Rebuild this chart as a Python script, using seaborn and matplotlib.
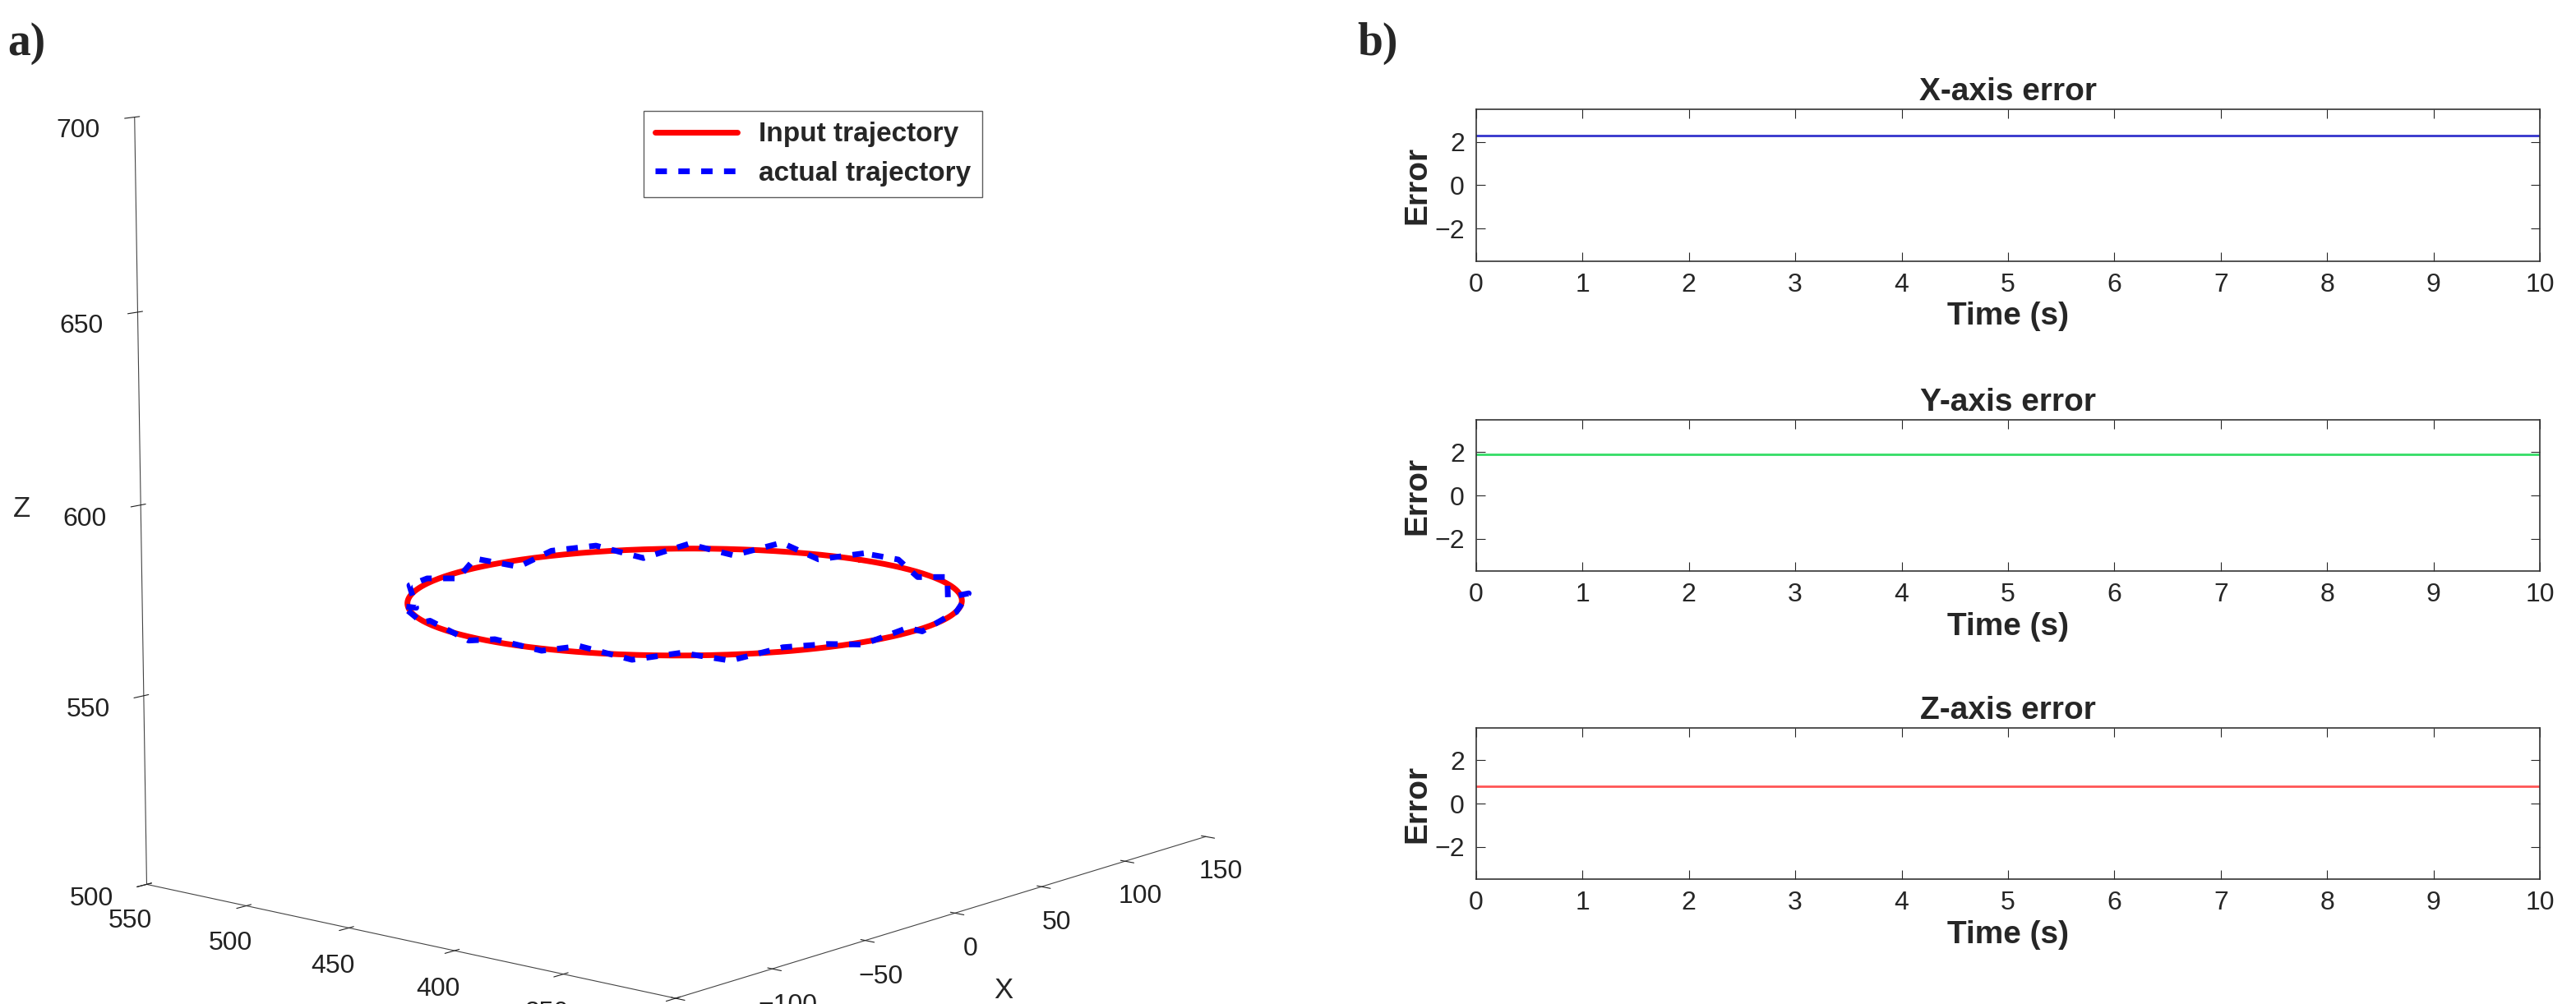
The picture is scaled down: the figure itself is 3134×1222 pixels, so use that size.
import numpy as np
import pandas as pd
import seaborn as sns
import matplotlib
matplotlib.use("Agg")
import matplotlib.pyplot as plt

# ---- data ----
circle_center_x = 0.0
circle_center_y = 425.0
circle_center_z = 570.0
circle_radius = 100.0
# radial deviations (mm) of the measured trajectory at 36 equally spaced angles
actual_dev = [2.5, -2.0, 3.0, -1.5, 2.0, -3.0, 1.5, 2.5, -2.0, 3.0, -2.5, 1.0,
              2.0, -3.0, 2.5, -1.0, 3.0, -2.0, 1.5, -2.5, 3.0, -1.5, 2.0, -3.0,
              2.5, 1.0, -2.0, 3.0, -2.5, 1.5, -1.0, 2.5, -3.0, 2.0, -1.5, 2.5]
actual_dz = [1.5, -1.0, 2.0, -1.5, 1.0, -2.0, 1.5, 1.0, -1.5, 2.0, -1.0, 1.0,
             1.5, -2.0, 1.0, -1.0, 2.0, -1.5, 1.0, -1.0, 2.0, -1.5, 1.0, -2.0,
             1.5, 1.0, -1.0, 2.0, -1.5, 1.0, -1.0, 1.5, -2.0, 1.0, -1.0, 1.5]
time_s = [0, 10]
err_x = [2.3, 2.3]
err_y = [1.9, 1.9]
err_z = [0.8, 0.8]
titles = ["X-axis error", "Y-axis error", "Z-axis error"]
colors = ["#3333cc", "#33dd66", "#ff5555"]

sns.set_style("white")
plt.rcParams["font.family"] = "Liberation Sans"

fig = plt.figure(figsize=(31.34, 12.22), dpi=100)

# ---- 3D panel ----
ax3 = fig.add_axes([-0.03, -0.06, 0.58, 1.12], projection="3d")
th = np.linspace(0, 2 * np.pi, 400)
ax3.plot(circle_center_x + circle_radius * np.cos(th),
         circle_center_y + circle_radius * np.sin(th),
         np.full_like(th, circle_center_z), color="red", lw=5,
         label="Input trajectory")
n = len(actual_dev)
tha = np.linspace(0, 2 * np.pi, n + 1)
r = np.array(actual_dev + actual_dev[:1]) + circle_radius
za = np.array(actual_dz + actual_dz[:1]) + circle_center_z
ax3.plot(circle_center_x + r * np.cos(tha), circle_center_y + r * np.sin(tha), za,
         color="blue", lw=5, ls=(0, (2, 2)), label="actual trajectory", zorder=3)
ax3.set_xlim(-150, 150)
ax3.set_ylim(300, 550)
ax3.set_zlim(500, 700)
ax3.set_xticks([-150, -100, -50, 0, 50, 100, 150])
ax3.set_xticklabels(["\u2212150", "\u2212100", "\u221250", "0", "50", "100", "150"])
ax3.set_yticks([300, 350, 400, 450, 500, 550])
ax3.set_zticks([500, 550, 600, 650, 700])
ax3.view_init(elev=10, azim=-140)
ax3.set_box_aspect((1.6, 1.3, 1.45), zoom=1.15)
ax3.grid(False)
for a in (ax3.xaxis, ax3.yaxis, ax3.zaxis):
    a.set_pane_color((1, 1, 1, 0))
    a.pane.set_edgecolor((1, 1, 1, 0))
    a.line.set_color("#444444")
    a.set_tick_params(labelsize=23, colors="#222222")
ax3.tick_params(axis="z", pad=18)
ax3.tick_params(axis="x", pad=6)
ax3.tick_params(axis="y", pad=6)
ax3.set_xlabel("X", fontsize=25, labelpad=24)
ax3.set_ylabel("Y", fontsize=25, labelpad=24)
ax3.set_zlabel("Z", fontsize=25, labelpad=34)
leg = ax3.legend(loc="upper right", bbox_to_anchor=(0.79, 0.86),
                 prop={"weight": "bold", "size": 24}, frameon=True, fancybox=False,
                 edgecolor="#333333", handlelength=3)

# ---- error panels ----
bottoms = [0.740, 0.431, 0.124]
for i, (vals, title, col) in enumerate(zip([err_x, err_y, err_z], titles, colors)):
    ax = fig.add_axes([0.573, bottoms[i], 0.413, 0.151])
    df = pd.DataFrame({"t": time_s, "e": vals})
    sns.lineplot(data=df, x="t", y="e", ax=ax, color=col, lw=2)
    ax.set_xlim(0, 10)
    ax.set_ylim(-3.5, 3.5)
    ax.set_xticks(range(0, 11))
    ax.set_yticks([-2, 0, 2])
    ax.set_yticklabels(["\u22122", "0", "2"])
    ax.tick_params(direction="in", length=8, labelsize=23, top=True, right=True,
                   bottom=True, left=True, pad=10)
    for s in ax.spines.values():
        s.set_color("#333333")
        s.set_linewidth(1.2)
    ax.set_xlabel("Time (s)", fontsize=28, fontweight="bold")
    ax.set_ylabel("Error", fontsize=28, fontweight="bold", labelpad=2)
    ax.set_title(title, fontsize=28, fontweight="bold", pad=8)

fig.text(0.003, 0.945, "a)", fontsize=40, fontweight="bold", family="Liberation Serif")
fig.text(0.527, 0.945, "b)", fontsize=40, fontweight="bold", family="Liberation Serif")

fig.savefig("out.png", dpi=100, facecolor="white")
